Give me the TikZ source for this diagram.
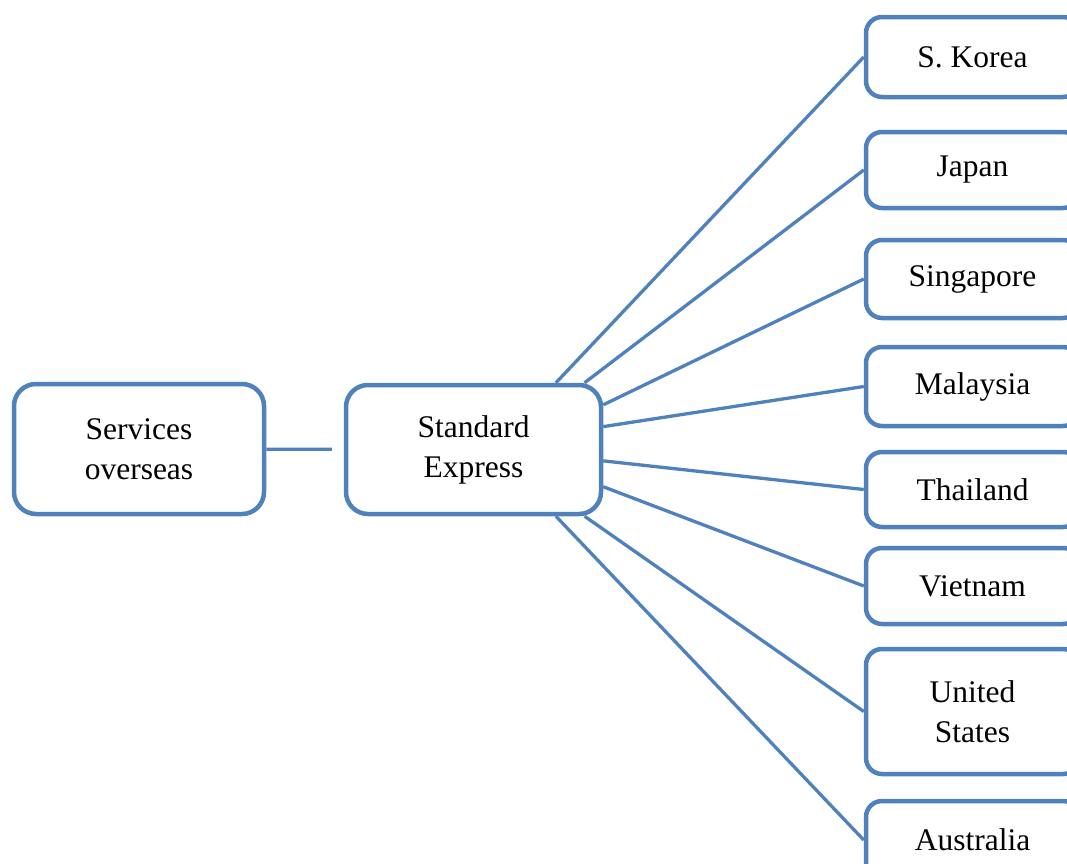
\documentclass[tikz,border=0pt]{standalone}
\usepackage{fontspec}
\setmainfont{Liberation Serif}
\definecolor{boxblue}{HTML}{4F81BD}
\begin{document}
\begin{tikzpicture}[x=1pt,y=-1pt,
  box/.style={draw=boxblue, line width=4.5pt, fill=white, align=center,
    inner sep=0pt, font=\fontsize{31.5}{40}\selectfont},
  bigbox/.style={box, rounded corners=22pt},
  country/.style={box, rounded corners=16pt, minimum width=213pt},
  link/.style={draw=boxblue, line width=3.3pt}]
  \useasboundingbox (0,0) rectangle (1067,863);
  \clip (0,0) rectangle (1067,863);

  % hub boxes
  \node[bigbox, minimum width=250pt, minimum height=130pt] (so) at (139,449)
    {Services\\overseas};
  \node[bigbox, minimum width=255pt, minimum height=129pt] (se) at (473.5,449.5)
    {Standard\\Express};

  % destination boxes (they run past the right edge)
  \node[country, minimum height=80pt]  (kr) at (972.5,57)    {S. Korea};
  \node[country, minimum height=76pt]  (jp) at (972.5,170)   {Japan};
  \node[country, minimum height=78pt]  (sg) at (972.5,279)   {Singapore};
  \node[country, minimum height=79pt]  (my) at (972.5,386.5) {Malaysia};
  \node[country, minimum height=75pt]  (th) at (972.5,489.5) {Thailand};
  \node[country, minimum height=76pt]  (vn) at (972.5,586)   {Vietnam};
  \node[country, minimum height=125pt] (us) at (972.5,711.5) {United\\States};
  \node[country, minimum height=78pt]  (au) at (972.5,840)   {Australia};

  % connectors
  \draw[link, shorten >=12pt] (so) -- (se);
  \draw[link] (se.39)   -- (kr.west);
  \draw[link] (se.31)   -- (jp.west);
  \draw[link] (se.19)   -- (sg.west);
  \draw[link] (se.10)   -- (my.west);
  \draw[link] (se.-5.5) -- (th.west);
  \draw[link] (se.-16.6)-- (vn.west);
  \draw[link] (se.-31)  -- (us.west);
  \draw[link] (se.-39.5)-- (au.west);
\end{tikzpicture}
\end{document}
